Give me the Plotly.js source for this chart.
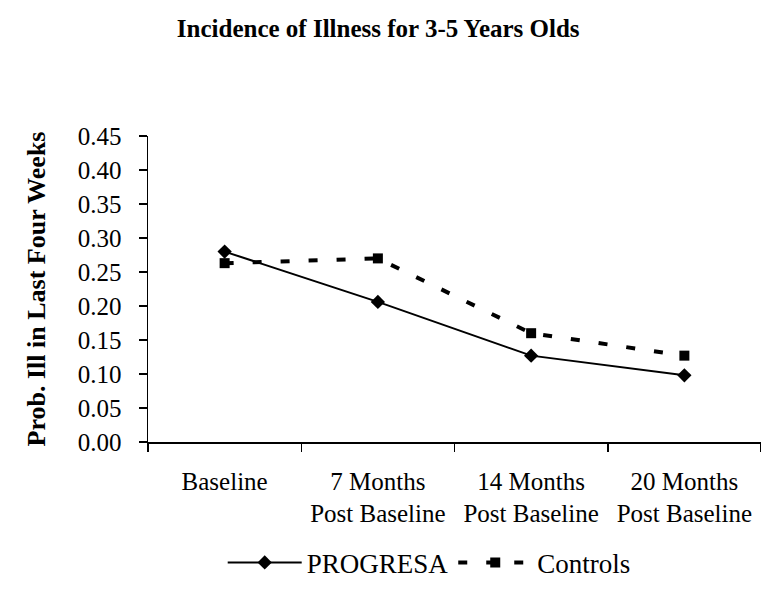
<!DOCTYPE html>
<html>
<head>
<meta charset="utf-8">
<script src="https://cdn.plot.ly/plotly-3.0.1.min.js"></script>
<style>html,body{margin:0;padding:0;background:#fff;}#chart{width:761px;height:602px;}</style>
</head>
<body>
<div id="chart"></div>
<script>
const categories = ["Baseline", "7 Months<br>Post Baseline", "14 Months<br>Post Baseline", "20 Months<br>Post Baseline"];
const progresa = [0.280, 0.206, 0.127, 0.098];
const controls = [0.263, 0.270, 0.160, 0.127];
const yTicks = [0, 0.05, 0.10, 0.15, 0.20, 0.25, 0.30, 0.35, 0.40, 0.45];
const yTickText = ["0.00", "0.05", "0.10", "0.15", "0.20", "0.25", "0.30", "0.35", "0.40", "0.45"];

const FONT = "'Liberation Serif', 'Times New Roman', serif";

const traces = [
  {
    x: categories, y: progresa, name: "PROGRESA", type: "scatter", mode: "lines+markers",
    line: {color: "#000", width: 2},
    marker: {symbol: "diamond", size: 11, color: "#000"}
  },
  {
    x: categories, y: controls, name: "Controls", type: "scatter", mode: "lines+markers",
    line: {color: "#000", width: 4, dash: "9px,19px"},
    marker: {symbol: "square", size: 10, color: "#000"}
  }
];

const layout = {
  width: 761, height: 602,
  paper_bgcolor: "#fff", plot_bgcolor: "#fff",
  margin: {l: 148, r: 0, t: 136, b: 160, pad: 0},
  font: {family: FONT, color: "#000", size: 25},
  title: {
    text: "<b>Incidence of Illness for 3-5 Years Olds</b>",
    font: {family: FONT, size: 25, color: "#000"},
    x: 0.497, xref: "container", xanchor: "center",
    y: 0.953, yref: "container", yanchor: "middle"
  },
  xaxis: {
    type: "category",
    range: [-0.5, 3.5],
    showline: true, linecolor: "#000", linewidth: 1.5,
    showgrid: false, zeroline: false,
    ticks: "outside", ticklen: 8, tickcolor: "#000", tickwidth: 1.5,
    tickson: "boundaries",
    tickfont: {family: FONT, size: 25, color: "#000"},
    ticklabelstandoff: 16
  },
  yaxis: {
    range: [0, 0.45],
    tickvals: yTicks, ticktext: yTickText,
    showline: true, linecolor: "#000", linewidth: 1.5,
    showgrid: false, zeroline: false,
    ticks: "outside", ticklen: 8, tickcolor: "#000", tickwidth: 1.5,
    tickfont: {family: FONT, size: 25, color: "#000"},
    ticklabelstandoff: 12,
    title: {text: "<b>Prob. Ill in Last Four Weeks</b>", font: {family: FONT, size: 26, color: "#000"}, standoff: 24}
  },
  showlegend: true,
  legend: {
    orientation: "h",
    x: 0.564, xref: "container", xanchor: "center",
    y: 0.065, yref: "container", yanchor: "middle",
    font: {family: FONT, size: 27, color: "#000"},
    itemwidth: 74,
    bgcolor: "rgba(0,0,0,0)"
  }
};

Plotly.newPlot("chart", traces, layout, {displayModeBar: false, staticPlot: true});
</script>
</body>
</html>
